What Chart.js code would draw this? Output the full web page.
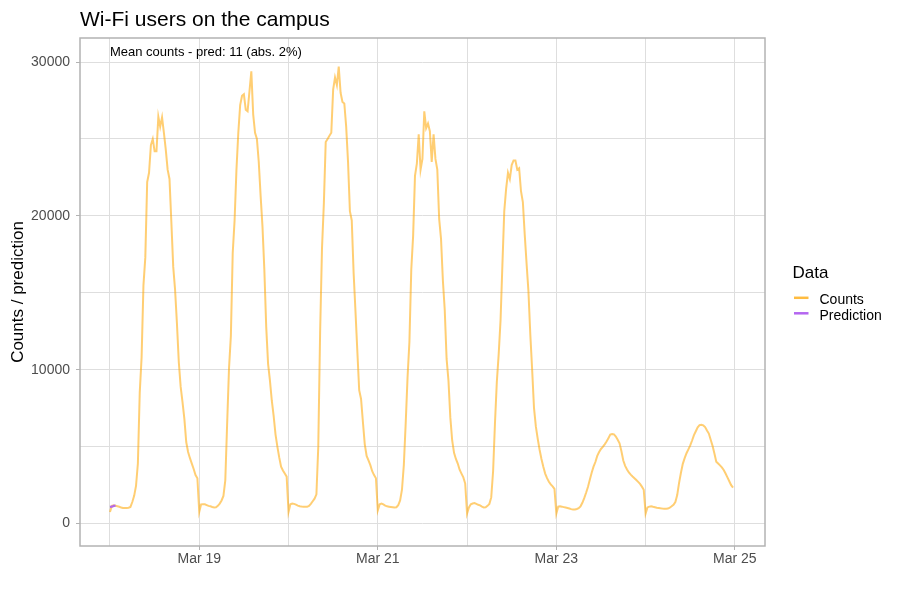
<!DOCTYPE html>
<html>
<head>
<meta charset="utf-8">
<script src="https://cdn.jsdelivr.net/npm/chart.js@4.4.1/dist/chart.umd.min.js"></script>
<style>
  html, body { margin: 0; padding: 0; background: #ffffff; }
  #wrap { width: 900px; height: 600px; position: relative; }
</style>
</head>
<body>
<div id="wrap"><canvas id="c" width="900" height="600"></canvas></div>
<script>
// ---- Data (hours since Mar 18 00:00, one value every 30 minutes) ----
const stepHours = 0.5;
const xTickLabels = { 24: 'Mar 19', 72: 'Mar 21', 120: 'Mar 23', 168: 'Mar 25' };
const yTickValues = [0, 5000, 10000, 15000, 20000, 25000, 30000];

const countsMar18 = [750, 1150, 1190, 1160, 1130, 1090, 1040, 1015, 1010, 1010, 1030, 1080,
  1400, 1800, 2450, 3900, 8500, 10800, 15500, 17300, 22200, 22800, 24600, 25000,
  24200, 24200, 26450, 25800, 26400, 25400, 24300, 23000, 22400, 19600, 16700, 15200,
  13000, 10500, 8900, 7900, 6800, 5300, 4650, 4250, 3900, 3550, 3150, 2950];
const countsMar19 = [750, 1250, 1260, 1250, 1200, 1150, 1120, 1080, 1045, 1060, 1150, 1300,
  1500, 1800, 2800, 6500, 10080, 12200, 17600, 19700, 23000, 25400, 27200, 27800,
  27900, 26900, 26800, 28100, 29400, 26600, 25400, 25000, 23500, 21300, 19300, 16500,
  12800, 10400, 9300, 8000, 7000, 5800, 5000, 4300, 3700, 3450, 3250, 3050];
const countsMar20 = [750, 1250, 1300, 1280, 1230, 1170, 1125, 1110, 1100, 1090, 1090, 1150,
  1280, 1450, 1620, 1900, 5000, 12500, 17900, 20800, 24800, 25000, 25200, 25400,
  28200, 29000, 28500, 29700, 28000, 27400, 27300, 25800, 23500, 20300, 19700, 16300,
  13800, 11200, 8670, 8100, 6600, 5150, 4400, 4100, 3800, 3400, 3150, 2950];
const countsMar21 = [860, 1250, 1300, 1250, 1170, 1120, 1100, 1080, 1060, 1040, 1060, 1200,
  1500, 2200, 3800, 6500, 9500, 11800, 16500, 18700, 22600, 23400, 25300, 23000,
  23700, 26800, 25700, 26000, 25500, 23500, 25300, 23700, 23000, 19800, 18500, 15800,
  13880, 10700, 9300, 6900, 5400, 4600, 4200, 3900, 3500, 3250, 3000, 2600];
const countsMar22 = [650, 1050, 1250, 1300, 1330, 1280, 1220, 1180, 1100, 1050, 1060, 1150,
  1280, 1700, 3400, 6500, 9200, 11000, 13200, 16800, 20300, 21750, 22800, 22400,
  23300, 23600, 23600, 23000, 23100, 21600, 20900, 18800, 16900, 15100, 12300, 10000,
  7500, 6300, 5500, 4800, 4200, 3700, 3250, 2950, 2720, 2550, 2420, 2250];
const countsMar23 = [650, 1100, 1120, 1100, 1070, 1040, 1010, 980, 940, 910, 920, 950,
  1000, 1120, 1350, 1650, 2000, 2380, 2850, 3300, 3700, 4000, 4400, 4650,
  4850, 4980, 5150, 5330, 5550, 5780, 5820, 5800, 5660, 5450, 5220, 4700,
  4100, 3750, 3520, 3320, 3180, 3060, 2950, 2830, 2710, 2580, 2400, 2200];
const countsMar24 = [650, 1050, 1100, 1125, 1090, 1060, 1030, 1010, 990, 975, 970, 970,
  975, 1030, 1120, 1220, 1400, 1850, 2650, 3300, 3880, 4250, 4570, 4820,
  5080, 5400, 5750, 6000, 6250, 6400, 6420, 6380, 6270, 6050, 5850, 5450,
  5050, 4550, 4020, 3900, 3780, 3650, 3480, 3250, 3000, 2750, 2500, 2340];
const predictionValues = [1080, 1100, 1150, 1170];

const countsByDay = [countsMar18, countsMar19, countsMar20, countsMar21, countsMar22, countsMar23, countsMar24];

const countPoints = [];
countsByDay.forEach((arr, d) => arr.forEach((v, i) => countPoints.push({ x: d * 24 + i * stepHours, y: v })));
const predictionPoints = predictionValues.map((v, i) => ({ x: i * stepHours, y: v }));

const COUNTS_LINE = 'rgba(255,165,0,0.55)';
const PRED_LINE = '#b56ae6';
const COUNTS_KEY = 'rgba(255,165,0,0.75)';
const PRED_KEY = '#b466f0';
const FONT = '"Liberation Sans", Arial, sans-serif';

const decorPlugin = {
  id: 'decor',
  afterDraw(chart) {
    const { ctx, chartArea: a } = chart;
    ctx.save();
    // panel border
    ctx.strokeStyle = '#b3b3b3';
    ctx.lineWidth = 1.5;
    ctx.strokeRect(a.left, a.top, a.right - a.left, a.bottom - a.top);
    // title
    ctx.fillStyle = '#000000';
    ctx.textBaseline = 'alphabetic';
    ctx.textAlign = 'left';
    ctx.font = '21px ' + FONT;
    ctx.fillText('Wi-Fi users on the campus', 80, 26);
    // annotation
    ctx.font = '13px ' + FONT;
    ctx.fillText('Mean counts - pred: 11 (abs. 2%)', chart.scales.x.getPixelForValue(0), 55.5);
    // legend
    ctx.font = '17px ' + FONT;
    ctx.fillText('Data', 792.5, 277.5);
    ctx.font = '14px ' + FONT;
    ctx.fillText('Counts', 819.5, 304);
    ctx.fillText('Prediction', 819.5, 320);
    ctx.lineWidth = 2.5;
    ctx.strokeStyle = COUNTS_KEY;
    ctx.beginPath(); ctx.moveTo(794, 297.8); ctx.lineTo(808.5, 297.8); ctx.stroke();
    ctx.strokeStyle = PRED_KEY;
    ctx.beginPath(); ctx.moveTo(794, 313.3); ctx.lineTo(808.5, 313.3); ctx.stroke();
    ctx.restore();
  }
};

new Chart(document.getElementById('c'), {
  type: 'line',
  data: {
    datasets: [
      { label: 'Prediction', data: predictionPoints, borderColor: PRED_LINE, borderWidth: 2.2,
        pointRadius: 0, tension: 0, fill: false, order: 0 },
      { label: 'Counts', data: countPoints, borderColor: COUNTS_LINE, borderWidth: 2,
        pointRadius: 0, tension: 0, fill: false, order: 1 }
    ]
  },
  options: {
    responsive: false,
    devicePixelRatio: 1,
    animation: false,
    layout: { padding: { top: 38, right: 135, left: 0, bottom: 0 } },
    plugins: { legend: { display: false }, tooltip: { enabled: false }, title: { display: false } },
    scales: {
      x: {
        type: 'linear',
        min: -8.06,
        max: 176.1,
        afterBuildTicks: (s) => { s.ticks = [0, 24, 48, 72, 96, 120, 144, 168].map(v => ({ value: v })); },
        afterFit: (s) => { s.height = 54; },
        ticks: {
          autoSkip: false, maxRotation: 0, padding: 1,
          color: '#4d4d4d', font: { family: FONT, size: 14 },
          callback: (v) => xTickLabels[v] || ''
        },
        grid: {
          color: '#dedede', lineWidth: 1, drawTicks: true, tickLength: 4,
          tickColor: (c) => (c.tick && xTickLabels[c.tick.value]) ? '#b3b3b3' : 'rgba(0,0,0,0)'
        },
        border: { display: false }
      },
      y: {
        type: 'linear',
        min: -1458,
        max: 31560,
        afterBuildTicks: (s) => { s.ticks = yTickValues.map(v => ({ value: v })); },
        afterFit: (s) => { s.width = 80; },
        ticks: {
          autoSkip: false, padding: 6,
          color: '#4d4d4d', font: { family: FONT, size: 14 },
          callback: (v) => (v % 10000 === 0 ? String(v) : '')
        },
        grid: {
          color: '#dedede', lineWidth: 1, drawTicks: true, tickLength: 4,
          tickColor: (c) => (c.tick && c.tick.value % 10000 === 0) ? '#b3b3b3' : 'rgba(0,0,0,0)'
        },
        border: { display: false },
        title: {
          display: true, text: 'Counts / prediction', color: '#000000',
          font: { family: FONT, size: 17 }, padding: { top: 8, bottom: 0 }
        }
      }
    }
  },
  plugins: [decorPlugin]
});
</script>
</body>
</html>
